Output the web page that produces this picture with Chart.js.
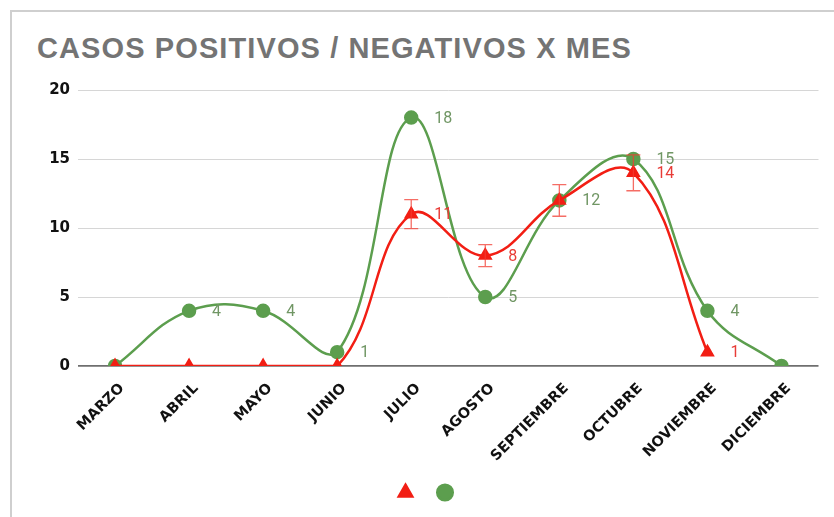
<!DOCTYPE html>
<html>
<head>
<meta charset="utf-8">
<script src="https://cdn.jsdelivr.net/npm/chart.js@4.4.0/dist/chart.umd.min.js"></script>
<style>
  body { margin: 0; background: #fff; width: 834px; height: 517px; overflow: hidden; position: relative; }
  #frame { position: absolute; left: 10px; top: 10px; width: 830px; height: 520px; border-left: 2px solid #cfcfcf; border-top: 2px solid #cfcfcf; }
  #title { position: absolute; left: 37px; top: 32px; font: bold 29px "Liberation Sans", Arial, sans-serif; letter-spacing: 1.1px; color: #747474; white-space: nowrap; }
  #wrap { position: absolute; left: 37px; top: 73px; width: 790px; height: 435px; }
</style>
</head>
<body>
<div id="frame"></div>
<div id="title">CASOS POSITIVOS / NEGATIVOS X MES</div>
<div id="wrap"><canvas id="chart"></canvas></div>
<script>
const meses = ['MARZO', 'ABRIL', 'MAYO', 'JUNIO', 'JULIO', 'AGOSTO', 'SEPTIEMBRE', 'OCTUBRE', 'NOVIEMBRE', 'DICIEMBRE'];
const positivos = [0, 0, 0, 0, 11, 8, 12, 14, 1, null];
const negativos = [0, 4, 4, 1, 18, 5, 12, 15, 4, 0];
// margen de error de los positivos (+/-)
const errorPositivos = [0, 0, 0, 0, 1.05, 0.8, 1.15, 1.3, 0, 0];
const etiquetasPositivos = [null, null, null, null, '11', '8', null, '14', '1', null];
const etiquetasNegativos = [null, '4', '4', '1', '18', '5', '12', '15', '4', null];

const rojo = 'rgb(242, 30, 20)';
const verde = 'rgb(92, 158, 78)';

const errorBars = {
  id: 'errorBars',
  afterDatasetsDraw(chart) {
    const ctx = chart.ctx;
    const y = chart.scales.y;
    const meta = chart.getDatasetMeta(0);
    ctx.save();
    ctx.strokeStyle = 'rgba(242, 60, 50, 0.75)';
    ctx.lineWidth = 1.3;
    meta.data.forEach((pt, i) => {
      const e = errorPositivos[i];
      if (!e || positivos[i] == null) return;
      const top = y.getPixelForValue(positivos[i] + e);
      const bot = y.getPixelForValue(positivos[i] - e);
      ctx.beginPath();
      ctx.moveTo(pt.x, top); ctx.lineTo(pt.x, bot);
      ctx.moveTo(pt.x - 7, top); ctx.lineTo(pt.x + 7, top);
      ctx.moveTo(pt.x - 7, bot); ctx.lineTo(pt.x + 7, bot);
      ctx.stroke();
    });
    ctx.restore();
  }
};

const valueLabels = {
  id: 'valueLabels',
  afterDatasetsDraw(chart) {
    const ctx = chart.ctx;
    ctx.save();
    ctx.font = '16px Roboto, sans-serif';
    ctx.textAlign = 'left';
    ctx.textBaseline = 'middle';
    [[0, etiquetasPositivos, 'rgb(232, 60, 55)'], [1, etiquetasNegativos, 'rgb(112, 150, 100)']].forEach(([d, labels, color]) => {
      const meta = chart.getDatasetMeta(d);
      ctx.fillStyle = color;
      meta.data.forEach((pt, i) => {
        if (labels[i]) ctx.fillText(labels[i], pt.x + 23, pt.y + 1);
      });
    });
    ctx.restore();
  }
};

new Chart(document.getElementById('chart'), {
  type: 'line',
  data: {
    labels: meses,
    datasets: [{
      label: '',
      data: positivos,
      borderColor: rojo,
      backgroundColor: rojo,
      borderWidth: 2.5,
      pointStyle: 'triangle',
      pointRadius: 6,
      tension: 0.4,
      clip: 0
    }, {
      label: '',
      data: negativos,
      borderColor: verde,
      backgroundColor: verde,
      borderWidth: 2.5,
      pointStyle: 'circle',
      pointRadius: 6,
      tension: 0.4,
      clip: 0
    }]
  },
  options: {
    responsive: true,
    maintainAspectRatio: false,
    animation: false,
    layout: { padding: { right: 8, bottom: 0 } },
    plugins: {
      legend: {
        position: 'bottom',
        labels: { usePointStyle: true, font: { size: 11 }, padding: 23 }
      },
      tooltip: { enabled: false }
    },
    scales: {
      x: {
        offset: true,
        grid: { display: false },
        border: { display: false },
        ticks: {
          color: '#111',
          font: { family: 'DejaVu Sans', weight: 'bold', size: 14.5 },
          minRotation: 45, maxRotation: 45, padding: 6, labelOffset: 7
        },
        afterFit(s) { s.height = 98; }
      },
      y: {
        min: 0, max: 20,
        border: { display: false },
        grid: {
          drawTicks: false,
          color: c => c.tick.value === 0 ? '#6f6f6f' : '#d6d6d6',
          lineWidth: c => c.tick.value === 0 ? 1.8 : 1
        },
        ticks: {
          stepSize: 5, padding: 8, color: '#111',
          font: { family: 'DejaVu Sans', weight: 'bold', size: 15 }
        },
        afterFit(s) { s.width = 41; }
      }
    }
  },
  plugins: [errorBars, valueLabels]
});
</script>
</body>
</html>
